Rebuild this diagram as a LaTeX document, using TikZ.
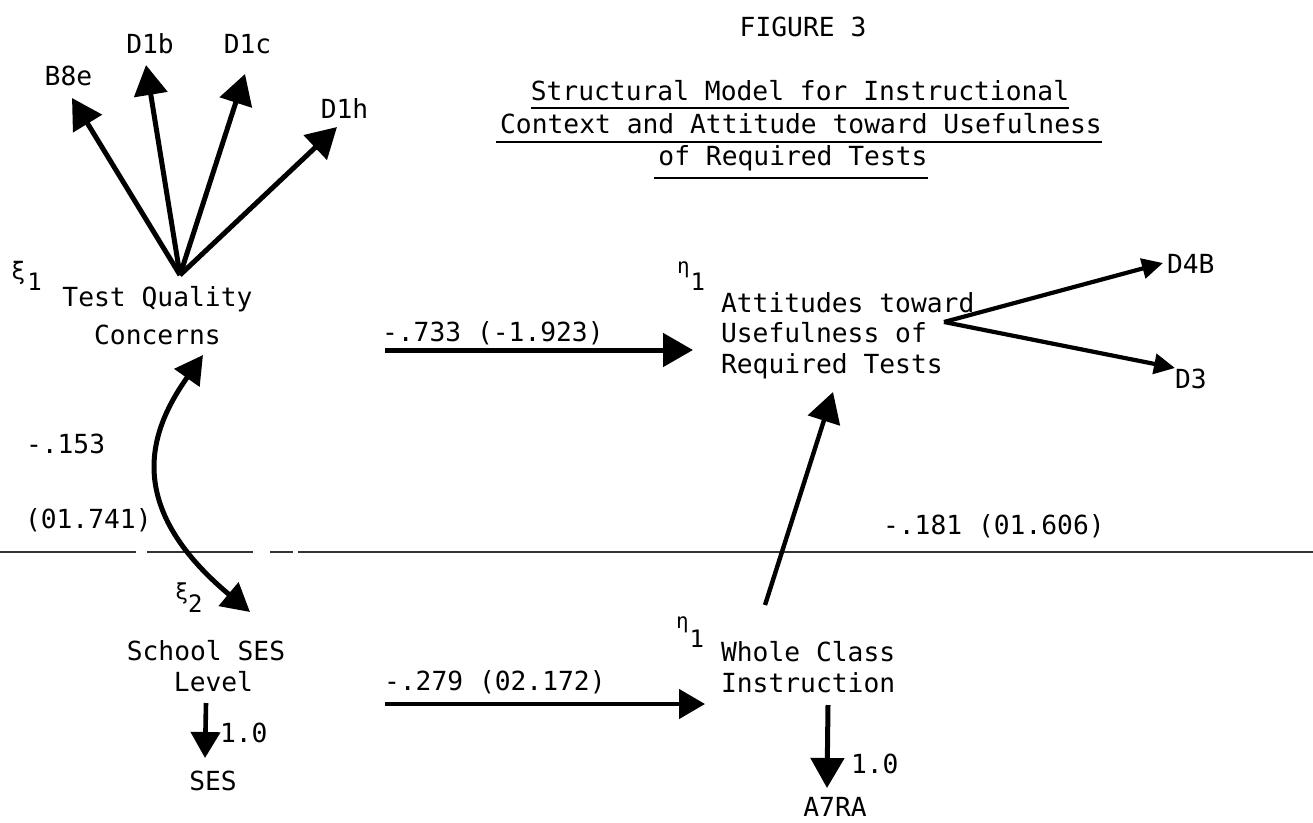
\documentclass[tikz,border=0pt]{standalone}
\usepackage{fontspec}
\newfontfamily\mono{DejaVu Sans Mono}
\usetikzlibrary{arrows.meta}
\begin{document}
\begin{tikzpicture}[x=1pt,y=-1pt,
  txt/.style={font={\mono\fontsize{26.3}{30}\selectfont}, inner sep=0pt, outer sep=0pt},
  lat/.style={font={\mono\fontsize{24}{28}\selectfont}, inner sep=0pt, outer sep=0pt, anchor=base west},
  uline/.style={line width=1.8pt},
  rulefold/.style={line width=1.3pt, black!80},
  bigarrow/.style={line width=5pt, -{Triangle[length=30pt,width=33pt]}},
  midarrow/.style={line width=4.6pt, -{Triangle[length=26pt,width=29pt]}},
  smallarrow/.style={line width=4.2pt, -{Triangle[length=21pt,width=20pt]}},
  curvearrow/.style={line width=5pt, {Triangle[length=28pt,width=30pt]}-{Triangle[length=28pt,width=30pt]}}
]
\useasboundingbox (0,0) rectangle (1313,822);
\fill[white] (0,0) rectangle (1313,822);

% fold line of the page
\draw[rulefold] (0,552) -- (136,552);
\draw[rulefold] (147,552) -- (253,552);
\draw[rulefold] (270,552) -- (293,552);
\draw[rulefold] (298,552) -- (1313,552);

% title
\node[txt,anchor=base] (fig) at (803,36) {FIGURE 3};
\node[txt,anchor=base] (t1) at (800,100) {Structural Model for Instructional};
\node[txt,anchor=base] (t2) at (801,133) {Context and Attitude toward Usefulness};
\node[txt,anchor=base] (t3) at (793,165) {of Required Tests};
\draw[uline] ([yshift=-8pt]t1.base west) -- ([yshift=-8pt]t1.base east);
\draw[uline] ([xshift=-4pt,yshift=-9pt]t2.base west) -- ([yshift=-9pt]t2.base east);
\draw[uline] ([xshift=-4pt,yshift=-13pt]t3.base west) -- ([yshift=-13pt]t3.base east);

% indicators of xi1
\node[txt,anchor=base] (b8e) at (68.5,85) {B8e};
\node[txt,anchor=base] (d1b) at (150,53) {D1b};
\node[txt,anchor=base] (d1c) at (247.5,53) {D1c};
\node[txt,anchor=base] (d1h) at (344.5,118) {D1h};
\coordinate (tqo) at (180,275);
\coordinate (b8etip) at (72,98);
\coordinate (d1btip) at (146,65);
\coordinate (d1ctip) at (245,74);
\coordinate (d1htip) at (337,127);
\draw[bigarrow] (tqo) -- (b8etip);
\draw[bigarrow] (tqo) -- (d1btip);
\draw[bigarrow] (tqo) -- (d1ctip);
\draw[bigarrow] (tqo) -- (d1htip);

% xi1
\node[lat] (xi1) at (11,279) {{\fontsize{24}{24}\selectfont ξ}\kern2pt\raisebox{-11pt}{1}};
\node[txt,anchor=base] (tq1) at (157.5,306) {Test Quality};
\node[txt,anchor=base] (tq2) at (157.5,344) {Concerns};

% correlation
\node[txt,anchor=base west] (m153) at (26,453) {-.153};
\node[txt,anchor=base west] (m741) at (25,528) {(01.741)};
\coordinate (cutop) at (203,355);
\coordinate (cubot) at (250,612);
\draw[curvearrow] (cutop) .. controls (150,430) and (122,505) .. (cubot);

% xi2
\node[lat] (xi2) at (175,599) {{\fontsize{22}{22}\selectfont ξ}\kern0pt\raisebox{-13pt}{2}};
\node[txt,anchor=base] (ss1) at (206,660) {School SES};
\node[txt,anchor=base] (ss2) at (213.5,691) {Level};
\coordinate (sesfrom) at (206,703);
\coordinate (sestip) at (205,758);
\draw[midarrow] (sesfrom) -- (sestip);
\node[txt,anchor=base west] (one1) at (220,742) {1.0};
\node[txt,anchor=base] (ses) at (213,790) {SES};

% structural paths
\node[txt,anchor=base west] (lab733) at (382,341) {-.733 (-1.923)};
\coordinate (a1from) at (385,350);
\coordinate (a1tip) at (693,350);
\draw[bigarrow] (a1from) -- (a1tip);

\node[txt,anchor=base west] (lab279) at (384,690) {-.279 (02.172)};
\coordinate (a2from) at (385,704);
\coordinate (a2tip) at (705,704);
\draw[midarrow] (a2from) -- (a2tip);

% eta1 attitudes
\node[lat] (eta1a) at (677,273) {{\fontsize{21}{21}\selectfont η}\kern1pt\raisebox{-17pt}{1}};
\node[txt,anchor=base west] (at1) at (721,312) {Attitudes toward};
\node[txt,anchor=base west] (at2) at (721,342) {Usefulness of};
\node[txt,anchor=base west] (at3) at (721,373) {Required Tests};
\node[txt,anchor=base west] (d4b) at (1167,273) {D4B};
\node[txt,anchor=base west] (d3) at (1175,388) {D3};
\coordinate (atout) at (944,322);
\coordinate (d4btip) at (1163,263);
\coordinate (d3tip) at (1175,368);
\draw[smallarrow] (atout) -- (d4btip);
\draw[smallarrow] (atout) -- (d3tip);

% eta1 whole class
\node[lat] (eta1b) at (676,628) {{\fontsize{21}{21}\selectfont η}\kern1pt\raisebox{-19pt}{1}};
\node[txt,anchor=base west] (wc1) at (721,661) {Whole Class};
\node[txt,anchor=base west] (wc2) at (721,692) {Instruction};
\coordinate (upfrom) at (765,605);
\coordinate (uptip) at (833,392);
\draw[line width=4.4pt, -{Triangle[length=30pt,width=33pt]}] (upfrom) -- (uptip);
\node[txt,anchor=base west] (lab181) at (883,534) {-.181 (01.606)};

\coordinate (a7from) at (828,705);
\coordinate (a7tip) at (827,788);
\draw[bigarrow] (a7from) -- (a7tip);
\node[txt,anchor=base west] (one2) at (851,773) {1.0};
\node[txt,anchor=base] (a7ra) at (835,816) {A7RA};
\end{tikzpicture}
\end{document}
